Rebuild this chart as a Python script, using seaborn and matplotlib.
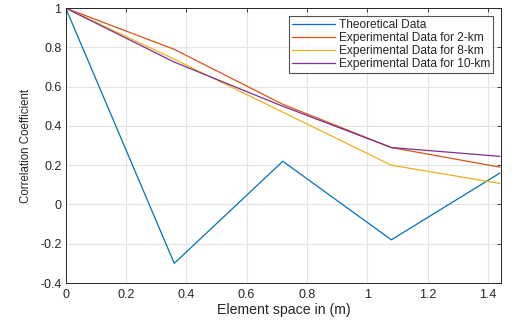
import matplotlib
matplotlib.use("Agg")
import matplotlib.pyplot as plt
import seaborn as sns
import pandas as pd
from matplotlib.ticker import FuncFormatter

x_vals = [0, 0.36, 0.72, 1.08, 1.44]
theoretical = [1.0, -0.30, 0.22, -0.18, 0.16]
exp_2km = [1.0, 0.79, 0.51, 0.29, 0.19]
exp_8km = [1.0, 0.74, 0.47, 0.20, 0.107]
exp_10km = [1.0, 0.725, 0.50, 0.29, 0.245]
series_names = ["Theoretical Data", "Experimental Data for 2-km",
                "Experimental Data for 8-km", "Experimental Data for 10-km"]
colors = ["#0072BD", "#D95319", "#EDB120", "#7E2F8E"]

rows = []
for name, vals in zip(series_names, [theoretical, exp_2km, exp_8km, exp_10km]):
    for xv, yv in zip(x_vals, vals):
        rows.append({"x": xv, "y": yv, "series": name})
df = pd.DataFrame(rows)

sns.set_style("white")
plt.rcParams['font.family'] = ['Liberation Sans', 'DejaVu Sans']

fig = plt.figure(figsize=(5.15, 3.24), dpi=100)
ax = fig.add_axes([0.1276, 0.1265, 0.8454, 0.8485])
sns.lineplot(data=df, x="x", y="y", hue="series", hue_order=series_names,
             palette=colors, linewidth=0.9, ax=ax, sort=False, estimator=None)

ax.set_xlim(0, 1.444)
ax.set_ylim(-0.4, 1.0)
ax.set_xticks([0, 0.2, 0.4, 0.6, 0.8, 1.0, 1.2, 1.4])
ax.set_yticks([-0.4, -0.2, 0, 0.2, 0.4, 0.6, 0.8, 1.0])
fmt = FuncFormatter(lambda v, p: ("%g" % round(v, 2)) if abs(v) > 1e-9 else "0")
ax.xaxis.set_major_formatter(fmt)
ax.yaxis.set_major_formatter(fmt)
ax.grid(True, color="#e3e3e3", linewidth=0.8)
ax.set_axisbelow(True)
for s in ax.spines.values():
    s.set_color("#262626")
    s.set_linewidth(0.7)
    s.set_visible(True)
ax.tick_params(direction="in", length=3, width=0.6, colors="#262626",
               labelsize=9, top=True, right=True)
ax.tick_params(axis="y", pad=3)
ax.tick_params(axis="x", pad=4)
ax.set_xlabel("Element space in (m)", fontsize=10.2, color="#262626", labelpad=2)
ax.set_ylabel("Correlation Coefficient", fontsize=8.3, color="#262626", labelpad=6)

leg = ax.legend(loc="upper right", bbox_to_anchor=(0.982, 0.972), fontsize=8.6,
                frameon=True, fancybox=False, edgecolor="#262626",
                borderpad=0.25, labelspacing=0.1, handlelength=3.6,
                handletextpad=0.3, borderaxespad=0.0)
leg.get_frame().set_linewidth(0.8)

fig.savefig("out.png", dpi=100)
